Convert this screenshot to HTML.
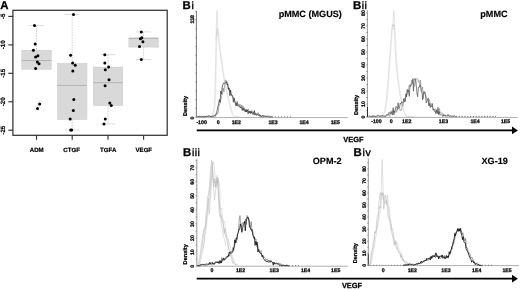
<!DOCTYPE html>
<html><head><meta charset="utf-8"><title>Figure</title>
<style>html,body{margin:0;padding:0;background:#fff;}svg{display:block;}</style>
</head><body>
<svg width="520" height="290" viewBox="0 0 520 290" text-rendering="geometricPrecision">
<rect width="520" height="290" fill="#fff"/>
<text x="0.2" y="8.9" font-family="Liberation Sans, Arial, sans-serif" font-size="11.4" font-weight="bold" fill="#000" stroke="#000" stroke-width="0.3">A</text>
<line x1="36.5" y1="25.5" x2="36.5" y2="50.2" stroke="#b4b4b4" stroke-width="0.6" stroke-dasharray="1.5,1"/>
<line x1="29.0" y1="25.5" x2="44.0" y2="25.5" stroke="#c4c4c4" stroke-width="0.6"/>
<rect x="21.75" y="50.2" width="29.5" height="19.1" fill="#d9d9d9" stroke="#cbcbcb" stroke-width="0.5"/>
<line x1="21.75" y1="60.5" x2="51.25" y2="60.5" stroke="#ababab" stroke-width="0.8"/>
<circle cx="39.6" cy="104" r="2.6" fill="none" stroke="#ddd" stroke-width="0.5"/>
<circle cx="37.5" cy="108.4" r="2.6" fill="none" stroke="#ddd" stroke-width="0.5"/>
<circle cx="34.5" cy="25.5" r="1.5" fill="#000"/>
<circle cx="35.2" cy="44.1" r="1.5" fill="#000"/>
<circle cx="33.4" cy="50.2" r="1.5" fill="#000"/>
<circle cx="35.6" cy="56.9" r="1.5" fill="#000"/>
<circle cx="37.9" cy="55.8" r="1.5" fill="#000"/>
<circle cx="37.4" cy="62.1" r="1.5" fill="#000"/>
<circle cx="39" cy="63.7" r="1.5" fill="#000"/>
<circle cx="35.6" cy="68.4" r="1.5" fill="#000"/>
<circle cx="39.6" cy="104" r="1.5" fill="#000"/>
<circle cx="37.5" cy="108.4" r="1.5" fill="#000"/>
<line x1="72.2" y1="14.5" x2="72.2" y2="63.3" stroke="#b4b4b4" stroke-width="0.6" stroke-dasharray="1.5,1"/>
<line x1="64.7" y1="14.5" x2="79.7" y2="14.5" stroke="#c4c4c4" stroke-width="0.6"/>
<line x1="72.2" y1="119.6" x2="72.2" y2="130" stroke="#b4b4b4" stroke-width="0.6" stroke-dasharray="1.5,1"/>
<line x1="64.7" y1="130" x2="79.7" y2="130" stroke="#c4c4c4" stroke-width="0.6"/>
<rect x="57.45" y="63.3" width="29.5" height="56.3" fill="#d9d9d9" stroke="#cbcbcb" stroke-width="0.5"/>
<line x1="57.45" y1="85.4" x2="86.95" y2="85.4" stroke="#ababab" stroke-width="0.8"/>
<circle cx="73.5" cy="14.5" r="1.5" fill="#000"/>
<circle cx="70.6" cy="55.3" r="1.5" fill="#000"/>
<circle cx="72.6" cy="63.1" r="1.5" fill="#000"/>
<circle cx="75.2" cy="65.3" r="1.5" fill="#000"/>
<circle cx="72.8" cy="71.1" r="1.5" fill="#000"/>
<circle cx="73.8" cy="99.6" r="1.5" fill="#000"/>
<circle cx="73.3" cy="110.5" r="1.5" fill="#000"/>
<circle cx="70.2" cy="119.1" r="1.5" fill="#000"/>
<circle cx="70.7" cy="130" r="1.5" fill="#000"/>
<circle cx="71.6" cy="130" r="1.5" fill="#000"/>
<line x1="108.0" y1="54.7" x2="108.0" y2="67.1" stroke="#b4b4b4" stroke-width="0.6" stroke-dasharray="1.5,1"/>
<line x1="100.5" y1="54.7" x2="115.5" y2="54.7" stroke="#c4c4c4" stroke-width="0.6"/>
<line x1="108.0" y1="105.6" x2="108.0" y2="124" stroke="#b4b4b4" stroke-width="0.6" stroke-dasharray="1.5,1"/>
<line x1="100.5" y1="124" x2="115.5" y2="124" stroke="#c4c4c4" stroke-width="0.6"/>
<rect x="93.25" y="67.1" width="29.5" height="38.5" fill="#d9d9d9" stroke="#cbcbcb" stroke-width="0.5"/>
<line x1="93.25" y1="82.7" x2="122.75" y2="82.7" stroke="#ababab" stroke-width="0.8"/>
<circle cx="104.8" cy="54.7" r="1.5" fill="#000"/>
<circle cx="104.8" cy="63.1" r="1.5" fill="#000"/>
<circle cx="108.6" cy="67.1" r="1.5" fill="#000"/>
<circle cx="105.3" cy="69.7" r="1.5" fill="#000"/>
<circle cx="109" cy="79.7" r="1.5" fill="#000"/>
<circle cx="105.1" cy="85.8" r="1.5" fill="#000"/>
<circle cx="109.8" cy="102.9" r="1.5" fill="#000"/>
<circle cx="111.3" cy="105.6" r="1.5" fill="#000"/>
<circle cx="105.3" cy="118.9" r="1.5" fill="#000"/>
<circle cx="104" cy="124" r="1.5" fill="#000"/>
<line x1="143.6" y1="31.9" x2="143.6" y2="37.9" stroke="#b4b4b4" stroke-width="0.6" stroke-dasharray="1.5,1"/>
<line x1="136.1" y1="31.9" x2="151.1" y2="31.9" stroke="#c4c4c4" stroke-width="0.6"/>
<line x1="143.6" y1="47.1" x2="143.6" y2="59.5" stroke="#b4b4b4" stroke-width="0.6" stroke-dasharray="1.5,1"/>
<line x1="136.1" y1="59.5" x2="151.1" y2="59.5" stroke="#c4c4c4" stroke-width="0.6"/>
<rect x="128.85" y="37.9" width="29.5" height="9.2" fill="#d9d9d9" stroke="#cbcbcb" stroke-width="0.5"/>
<line x1="128.85" y1="38.4" x2="158.35" y2="38.4" stroke="#ababab" stroke-width="0.8"/>
<circle cx="141.3" cy="31.9" r="1.5" fill="#000"/>
<circle cx="140.4" cy="38.8" r="1.5" fill="#000"/>
<circle cx="141.8" cy="37.8" r="1.5" fill="#000"/>
<circle cx="142.9" cy="41.8" r="1.5" fill="#000"/>
<circle cx="139.5" cy="46.4" r="1.5" fill="#000"/>
<circle cx="141.3" cy="59.4" r="1.5" fill="#000"/>
<rect x="12.9" y="10.3" width="154.3" height="125.0" fill="none" stroke="#333" stroke-width="1.25"/>
<line x1="8.3" y1="16.4" x2="12.9" y2="16.4" stroke="#333" stroke-width="1.15"/>
<text transform="translate(4.6,16.4) rotate(-90)" text-anchor="middle" font-family="Liberation Sans, Arial, sans-serif" font-size="6.2" font-weight="bold" fill="#000" stroke="#000" stroke-width="0.2">-5</text>
<line x1="8.3" y1="44.9" x2="12.9" y2="44.9" stroke="#333" stroke-width="1.15"/>
<text transform="translate(4.6,44.9) rotate(-90)" text-anchor="middle" font-family="Liberation Sans, Arial, sans-serif" font-size="6.2" font-weight="bold" fill="#000" stroke="#000" stroke-width="0.2">-10</text>
<line x1="8.3" y1="73.3" x2="12.9" y2="73.3" stroke="#333" stroke-width="1.15"/>
<text transform="translate(4.6,73.3) rotate(-90)" text-anchor="middle" font-family="Liberation Sans, Arial, sans-serif" font-size="6.2" font-weight="bold" fill="#000" stroke="#000" stroke-width="0.2">-15</text>
<line x1="8.3" y1="101.8" x2="12.9" y2="101.8" stroke="#333" stroke-width="1.15"/>
<text transform="translate(4.6,101.8) rotate(-90)" text-anchor="middle" font-family="Liberation Sans, Arial, sans-serif" font-size="6.2" font-weight="bold" fill="#000" stroke="#000" stroke-width="0.2">-20</text>
<line x1="8.3" y1="130.2" x2="12.9" y2="130.2" stroke="#333" stroke-width="1.15"/>
<text transform="translate(4.6,130.2) rotate(-90)" text-anchor="middle" font-family="Liberation Sans, Arial, sans-serif" font-size="6.2" font-weight="bold" fill="#000" stroke="#000" stroke-width="0.2">-25</text>
<line x1="36.5" y1="135.3" x2="36.5" y2="139.8" stroke="#333" stroke-width="1.15"/>
<text x="36.7" y="151.6" text-anchor="middle" font-family="Liberation Sans, Arial, sans-serif" font-size="6.1" font-weight="bold" fill="#000" stroke="#000" stroke-width="0.2">ADM</text>
<line x1="72.2" y1="135.3" x2="72.2" y2="139.8" stroke="#333" stroke-width="1.15"/>
<text x="71.60000000000001" y="151.6" text-anchor="middle" font-family="Liberation Sans, Arial, sans-serif" font-size="6.1" font-weight="bold" fill="#000" stroke="#000" stroke-width="0.2">CTGF</text>
<line x1="108.0" y1="135.3" x2="108.0" y2="139.8" stroke="#333" stroke-width="1.15"/>
<text x="108.2" y="151.6" text-anchor="middle" font-family="Liberation Sans, Arial, sans-serif" font-size="6.1" font-weight="bold" fill="#000" stroke="#000" stroke-width="0.2">TGFA</text>
<line x1="143.6" y1="135.3" x2="143.6" y2="139.8" stroke="#333" stroke-width="1.15"/>
<text x="143.79999999999998" y="151.6" text-anchor="middle" font-family="Liberation Sans, Arial, sans-serif" font-size="6.1" font-weight="bold" fill="#000" stroke="#000" stroke-width="0.2">VEGF</text>
<line x1="196.4" y1="11" x2="196.4" y2="117.6" stroke="#666" stroke-width="0.9"/>
<line x1="195.20000000000002" y1="117.30" x2="196.70000000000002" y2="117.30" stroke="#777" stroke-width="0.6"/>
<line x1="195.20000000000002" y1="108.45" x2="196.70000000000002" y2="108.45" stroke="#777" stroke-width="0.6"/>
<line x1="195.20000000000002" y1="99.60" x2="196.70000000000002" y2="99.60" stroke="#777" stroke-width="0.6"/>
<line x1="195.20000000000002" y1="90.75" x2="196.70000000000002" y2="90.75" stroke="#777" stroke-width="0.6"/>
<line x1="195.20000000000002" y1="81.90" x2="196.70000000000002" y2="81.90" stroke="#777" stroke-width="0.6"/>
<line x1="195.20000000000002" y1="73.05" x2="196.70000000000002" y2="73.05" stroke="#777" stroke-width="0.6"/>
<line x1="195.20000000000002" y1="64.20" x2="196.70000000000002" y2="64.20" stroke="#777" stroke-width="0.6"/>
<line x1="195.20000000000002" y1="55.35" x2="196.70000000000002" y2="55.35" stroke="#777" stroke-width="0.6"/>
<line x1="195.20000000000002" y1="46.50" x2="196.70000000000002" y2="46.50" stroke="#777" stroke-width="0.6"/>
<line x1="195.20000000000002" y1="37.65" x2="196.70000000000002" y2="37.65" stroke="#777" stroke-width="0.6"/>
<line x1="195.20000000000002" y1="28.80" x2="196.70000000000002" y2="28.80" stroke="#777" stroke-width="0.6"/>
<line x1="195.20000000000002" y1="19.95" x2="196.70000000000002" y2="19.95" stroke="#777" stroke-width="0.6"/>
<line x1="195.20000000000002" y1="11.10" x2="196.70000000000002" y2="11.10" stroke="#777" stroke-width="0.6"/>
<line x1="196.4" y1="117.6" x2="347.8" y2="117.6" stroke="#999" stroke-width="0.8"/>
<text x="182.5" y="8.7" font-family="Liberation Sans, Arial, sans-serif" font-size="11.4" font-weight="bold" fill="#000" stroke="#000" stroke-width="0.3">B</text>
<text x="191.4" y="8.7" font-family="Liberation Sans, Arial, sans-serif" font-size="10.6" fill="#000" stroke="#000" stroke-width="0.35" letter-spacing="0.45">i</text>
<text x="341.8" y="17.2" text-anchor="end" font-family="Liberation Sans, Arial, sans-serif" font-size="9.1" font-weight="bold" fill="#000" stroke="#000" stroke-width="0.15">pMMC (MGUS)</text>
<text transform="translate(193.6,19.20) rotate(-90)" text-anchor="middle" font-family="Liberation Sans, Arial, sans-serif" font-size="5.2" font-weight="bold" fill="#000" stroke="#000" stroke-width="0.25">118</text>
<text transform="translate(193.6,118.00) rotate(-90)" text-anchor="middle" font-family="Liberation Sans, Arial, sans-serif" font-size="5.2" font-weight="bold" fill="#000" stroke="#000" stroke-width="0.25">0</text>
<text transform="translate(186.6,106.00) rotate(-90)" text-anchor="middle" font-family="Liberation Sans, Arial, sans-serif" font-size="5.6" font-weight="bold" fill="#000" stroke="#000" stroke-width="0.25">Density</text>
<text x="201.6" y="123.9" text-anchor="middle" font-family="Liberation Sans, Arial, sans-serif" font-size="5.2" font-weight="bold" fill="#000" stroke="#000" stroke-width="0.25">-100</text>
<text x="218.3" y="123.9" text-anchor="middle" font-family="Liberation Sans, Arial, sans-serif" font-size="5.2" font-weight="bold" fill="#000" stroke="#000" stroke-width="0.25">0</text>
<text x="236.3" y="123.9" text-anchor="middle" font-family="Liberation Sans, Arial, sans-serif" font-size="5.2" font-weight="bold" fill="#000" stroke="#000" stroke-width="0.25">1E2</text>
<text x="273.0" y="123.9" text-anchor="middle" font-family="Liberation Sans, Arial, sans-serif" font-size="5.2" font-weight="bold" fill="#000" stroke="#000" stroke-width="0.25">1E3</text>
<text x="304.1" y="123.9" text-anchor="middle" font-family="Liberation Sans, Arial, sans-serif" font-size="5.2" font-weight="bold" fill="#000" stroke="#000" stroke-width="0.25">1E4</text>
<text x="335.3" y="123.9" text-anchor="middle" font-family="Liberation Sans, Arial, sans-serif" font-size="5.2" font-weight="bold" fill="#000" stroke="#000" stroke-width="0.25">1E5</text>
<line x1="367.4" y1="10.3" x2="367.4" y2="117.4" stroke="#909090" stroke-width="0.9"/>
<line x1="366.2" y1="117.00" x2="367.7" y2="117.00" stroke="#777" stroke-width="0.6"/>
<line x1="366.2" y1="110.50" x2="367.7" y2="110.50" stroke="#777" stroke-width="0.6"/>
<line x1="366.2" y1="104.00" x2="367.7" y2="104.00" stroke="#777" stroke-width="0.6"/>
<line x1="366.2" y1="97.50" x2="367.7" y2="97.50" stroke="#777" stroke-width="0.6"/>
<line x1="366.2" y1="91.00" x2="367.7" y2="91.00" stroke="#777" stroke-width="0.6"/>
<line x1="366.2" y1="84.50" x2="367.7" y2="84.50" stroke="#777" stroke-width="0.6"/>
<line x1="366.2" y1="78.00" x2="367.7" y2="78.00" stroke="#777" stroke-width="0.6"/>
<line x1="366.2" y1="71.50" x2="367.7" y2="71.50" stroke="#777" stroke-width="0.6"/>
<line x1="366.2" y1="65.00" x2="367.7" y2="65.00" stroke="#777" stroke-width="0.6"/>
<line x1="366.2" y1="58.50" x2="367.7" y2="58.50" stroke="#777" stroke-width="0.6"/>
<line x1="366.2" y1="52.00" x2="367.7" y2="52.00" stroke="#777" stroke-width="0.6"/>
<line x1="366.2" y1="45.50" x2="367.7" y2="45.50" stroke="#777" stroke-width="0.6"/>
<line x1="366.2" y1="39.00" x2="367.7" y2="39.00" stroke="#777" stroke-width="0.6"/>
<line x1="366.2" y1="32.50" x2="367.7" y2="32.50" stroke="#777" stroke-width="0.6"/>
<line x1="366.2" y1="26.00" x2="367.7" y2="26.00" stroke="#777" stroke-width="0.6"/>
<line x1="366.2" y1="19.50" x2="367.7" y2="19.50" stroke="#777" stroke-width="0.6"/>
<line x1="366.2" y1="13.00" x2="367.7" y2="13.00" stroke="#777" stroke-width="0.6"/>
<line x1="367.4" y1="117.4" x2="517.7" y2="117.4" stroke="#999" stroke-width="0.8"/>
<text x="352.9" y="8.7" font-family="Liberation Sans, Arial, sans-serif" font-size="11.4" font-weight="bold" fill="#000" stroke="#000" stroke-width="0.3">B</text>
<text x="361.8" y="8.7" font-family="Liberation Sans, Arial, sans-serif" font-size="10.6" fill="#000" stroke="#000" stroke-width="0.35" letter-spacing="0.45">ii</text>
<text x="507.6" y="17.2" text-anchor="end" font-family="Liberation Sans, Arial, sans-serif" font-size="9.1" font-weight="bold" fill="#000" stroke="#000" stroke-width="0.15">pMMC</text>
<text transform="translate(364.8,117.00) rotate(-90)" text-anchor="middle" font-family="Liberation Sans, Arial, sans-serif" font-size="5.2" font-weight="bold" fill="#000" stroke="#000" stroke-width="0.25">0</text>
<text transform="translate(364.8,104.00) rotate(-90)" text-anchor="middle" font-family="Liberation Sans, Arial, sans-serif" font-size="5.2" font-weight="bold" fill="#000" stroke="#000" stroke-width="0.25">10</text>
<text transform="translate(364.8,91.00) rotate(-90)" text-anchor="middle" font-family="Liberation Sans, Arial, sans-serif" font-size="5.2" font-weight="bold" fill="#000" stroke="#000" stroke-width="0.25">20</text>
<text transform="translate(364.8,78.00) rotate(-90)" text-anchor="middle" font-family="Liberation Sans, Arial, sans-serif" font-size="5.2" font-weight="bold" fill="#000" stroke="#000" stroke-width="0.25">30</text>
<text transform="translate(364.8,65.00) rotate(-90)" text-anchor="middle" font-family="Liberation Sans, Arial, sans-serif" font-size="5.2" font-weight="bold" fill="#000" stroke="#000" stroke-width="0.25">40</text>
<text transform="translate(364.8,52.00) rotate(-90)" text-anchor="middle" font-family="Liberation Sans, Arial, sans-serif" font-size="5.2" font-weight="bold" fill="#000" stroke="#000" stroke-width="0.25">50</text>
<text transform="translate(364.8,39.00) rotate(-90)" text-anchor="middle" font-family="Liberation Sans, Arial, sans-serif" font-size="5.2" font-weight="bold" fill="#000" stroke="#000" stroke-width="0.25">60</text>
<text transform="translate(364.8,26.00) rotate(-90)" text-anchor="middle" font-family="Liberation Sans, Arial, sans-serif" font-size="5.2" font-weight="bold" fill="#000" stroke="#000" stroke-width="0.25">70</text>
<text transform="translate(364.8,13.00) rotate(-90)" text-anchor="middle" font-family="Liberation Sans, Arial, sans-serif" font-size="5.2" font-weight="bold" fill="#000" stroke="#000" stroke-width="0.25">80</text>
<text transform="translate(357.6,105.00) rotate(-90)" text-anchor="middle" font-family="Liberation Sans, Arial, sans-serif" font-size="5.6" font-weight="bold" fill="#000" stroke="#000" stroke-width="0.25">Density</text>
<text x="376.4" y="123.3" text-anchor="middle" font-family="Liberation Sans, Arial, sans-serif" font-size="5.2" font-weight="bold" fill="#000" stroke="#000" stroke-width="0.25">-100</text>
<text x="391.3" y="123.3" text-anchor="middle" font-family="Liberation Sans, Arial, sans-serif" font-size="5.2" font-weight="bold" fill="#000" stroke="#000" stroke-width="0.25">0</text>
<text x="406.7" y="123.3" text-anchor="middle" font-family="Liberation Sans, Arial, sans-serif" font-size="5.2" font-weight="bold" fill="#000" stroke="#000" stroke-width="0.25">1E2</text>
<text x="443.4" y="123.3" text-anchor="middle" font-family="Liberation Sans, Arial, sans-serif" font-size="5.2" font-weight="bold" fill="#000" stroke="#000" stroke-width="0.25">1E3</text>
<text x="475" y="123.3" text-anchor="middle" font-family="Liberation Sans, Arial, sans-serif" font-size="5.2" font-weight="bold" fill="#000" stroke="#000" stroke-width="0.25">1E4</text>
<text x="505.5" y="123.3" text-anchor="middle" font-family="Liberation Sans, Arial, sans-serif" font-size="5.2" font-weight="bold" fill="#000" stroke="#000" stroke-width="0.25">1E5</text>
<line x1="196.8" y1="159.2" x2="196.8" y2="266.2" stroke="#909090" stroke-width="0.9"/>
<line x1="195.60000000000002" y1="266.20" x2="197.10000000000002" y2="266.20" stroke="#777" stroke-width="0.6"/>
<line x1="195.60000000000002" y1="259.17" x2="197.10000000000002" y2="259.17" stroke="#777" stroke-width="0.6"/>
<line x1="195.60000000000002" y1="252.14" x2="197.10000000000002" y2="252.14" stroke="#777" stroke-width="0.6"/>
<line x1="195.60000000000002" y1="245.11" x2="197.10000000000002" y2="245.11" stroke="#777" stroke-width="0.6"/>
<line x1="195.60000000000002" y1="238.08" x2="197.10000000000002" y2="238.08" stroke="#777" stroke-width="0.6"/>
<line x1="195.60000000000002" y1="231.05" x2="197.10000000000002" y2="231.05" stroke="#777" stroke-width="0.6"/>
<line x1="195.60000000000002" y1="224.02" x2="197.10000000000002" y2="224.02" stroke="#777" stroke-width="0.6"/>
<line x1="195.60000000000002" y1="216.99" x2="197.10000000000002" y2="216.99" stroke="#777" stroke-width="0.6"/>
<line x1="195.60000000000002" y1="209.96" x2="197.10000000000002" y2="209.96" stroke="#777" stroke-width="0.6"/>
<line x1="195.60000000000002" y1="202.93" x2="197.10000000000002" y2="202.93" stroke="#777" stroke-width="0.6"/>
<line x1="195.60000000000002" y1="195.90" x2="197.10000000000002" y2="195.90" stroke="#777" stroke-width="0.6"/>
<line x1="195.60000000000002" y1="188.87" x2="197.10000000000002" y2="188.87" stroke="#777" stroke-width="0.6"/>
<line x1="195.60000000000002" y1="181.84" x2="197.10000000000002" y2="181.84" stroke="#777" stroke-width="0.6"/>
<line x1="195.60000000000002" y1="174.81" x2="197.10000000000002" y2="174.81" stroke="#777" stroke-width="0.6"/>
<line x1="195.60000000000002" y1="167.78" x2="197.10000000000002" y2="167.78" stroke="#777" stroke-width="0.6"/>
<line x1="195.60000000000002" y1="160.75" x2="197.10000000000002" y2="160.75" stroke="#777" stroke-width="0.6"/>
<line x1="196.8" y1="266.2" x2="347.8" y2="266.2" stroke="#999" stroke-width="0.8"/>
<text x="182.9" y="155.6" font-family="Liberation Sans, Arial, sans-serif" font-size="11.4" font-weight="bold" fill="#000" stroke="#000" stroke-width="0.3">B</text>
<text x="191.9" y="155.6" font-family="Liberation Sans, Arial, sans-serif" font-size="10.6" fill="#000" stroke="#000" stroke-width="0.35" letter-spacing="0.45">iii</text>
<text x="341.6" y="163.6" text-anchor="end" font-family="Liberation Sans, Arial, sans-serif" font-size="9.1" font-weight="bold" fill="#000" stroke="#000" stroke-width="0.15">OPM-2</text>
<text transform="translate(193.6,266.20) rotate(-90)" text-anchor="middle" font-family="Liberation Sans, Arial, sans-serif" font-size="5.2" font-weight="bold" fill="#000" stroke="#000" stroke-width="0.25">0</text>
<text transform="translate(193.6,252.14) rotate(-90)" text-anchor="middle" font-family="Liberation Sans, Arial, sans-serif" font-size="5.2" font-weight="bold" fill="#000" stroke="#000" stroke-width="0.25">10</text>
<text transform="translate(193.6,238.08) rotate(-90)" text-anchor="middle" font-family="Liberation Sans, Arial, sans-serif" font-size="5.2" font-weight="bold" fill="#000" stroke="#000" stroke-width="0.25">20</text>
<text transform="translate(193.6,224.02) rotate(-90)" text-anchor="middle" font-family="Liberation Sans, Arial, sans-serif" font-size="5.2" font-weight="bold" fill="#000" stroke="#000" stroke-width="0.25">30</text>
<text transform="translate(193.6,209.96) rotate(-90)" text-anchor="middle" font-family="Liberation Sans, Arial, sans-serif" font-size="5.2" font-weight="bold" fill="#000" stroke="#000" stroke-width="0.25">40</text>
<text transform="translate(193.6,195.90) rotate(-90)" text-anchor="middle" font-family="Liberation Sans, Arial, sans-serif" font-size="5.2" font-weight="bold" fill="#000" stroke="#000" stroke-width="0.25">50</text>
<text transform="translate(193.6,181.84) rotate(-90)" text-anchor="middle" font-family="Liberation Sans, Arial, sans-serif" font-size="5.2" font-weight="bold" fill="#000" stroke="#000" stroke-width="0.25">60</text>
<text transform="translate(193.6,167.78) rotate(-90)" text-anchor="middle" font-family="Liberation Sans, Arial, sans-serif" font-size="5.2" font-weight="bold" fill="#000" stroke="#000" stroke-width="0.25">70</text>
<text transform="translate(187.1,254.30) rotate(-90)" text-anchor="middle" font-family="Liberation Sans, Arial, sans-serif" font-size="5.6" font-weight="bold" fill="#000" stroke="#000" stroke-width="0.25">Density</text>
<text x="211.9" y="272.2" text-anchor="middle" font-family="Liberation Sans, Arial, sans-serif" font-size="5.2" font-weight="bold" fill="#000" stroke="#000" stroke-width="0.25">0</text>
<text x="240.5" y="272.2" text-anchor="middle" font-family="Liberation Sans, Arial, sans-serif" font-size="5.2" font-weight="bold" fill="#000" stroke="#000" stroke-width="0.25">1E2</text>
<text x="274.2" y="272.2" text-anchor="middle" font-family="Liberation Sans, Arial, sans-serif" font-size="5.2" font-weight="bold" fill="#000" stroke="#000" stroke-width="0.25">1E3</text>
<text x="305.5" y="272.2" text-anchor="middle" font-family="Liberation Sans, Arial, sans-serif" font-size="5.2" font-weight="bold" fill="#000" stroke="#000" stroke-width="0.25">1E4</text>
<text x="335.7" y="272.2" text-anchor="middle" font-family="Liberation Sans, Arial, sans-serif" font-size="5.2" font-weight="bold" fill="#000" stroke="#000" stroke-width="0.25">1E5</text>
<line x1="368.3" y1="158.3" x2="368.3" y2="265.6" stroke="#909090" stroke-width="0.9"/>
<line x1="367.1" y1="265.30" x2="368.6" y2="265.30" stroke="#777" stroke-width="0.6"/>
<line x1="367.1" y1="259.28" x2="368.6" y2="259.28" stroke="#777" stroke-width="0.6"/>
<line x1="367.1" y1="253.25" x2="368.6" y2="253.25" stroke="#777" stroke-width="0.6"/>
<line x1="367.1" y1="247.23" x2="368.6" y2="247.23" stroke="#777" stroke-width="0.6"/>
<line x1="367.1" y1="241.20" x2="368.6" y2="241.20" stroke="#777" stroke-width="0.6"/>
<line x1="367.1" y1="235.18" x2="368.6" y2="235.18" stroke="#777" stroke-width="0.6"/>
<line x1="367.1" y1="229.15" x2="368.6" y2="229.15" stroke="#777" stroke-width="0.6"/>
<line x1="367.1" y1="223.12" x2="368.6" y2="223.12" stroke="#777" stroke-width="0.6"/>
<line x1="367.1" y1="217.10" x2="368.6" y2="217.10" stroke="#777" stroke-width="0.6"/>
<line x1="367.1" y1="211.08" x2="368.6" y2="211.08" stroke="#777" stroke-width="0.6"/>
<line x1="367.1" y1="205.05" x2="368.6" y2="205.05" stroke="#777" stroke-width="0.6"/>
<line x1="367.1" y1="199.03" x2="368.6" y2="199.03" stroke="#777" stroke-width="0.6"/>
<line x1="367.1" y1="193.00" x2="368.6" y2="193.00" stroke="#777" stroke-width="0.6"/>
<line x1="367.1" y1="186.98" x2="368.6" y2="186.98" stroke="#777" stroke-width="0.6"/>
<line x1="367.1" y1="180.95" x2="368.6" y2="180.95" stroke="#777" stroke-width="0.6"/>
<line x1="367.1" y1="174.93" x2="368.6" y2="174.93" stroke="#777" stroke-width="0.6"/>
<line x1="367.1" y1="168.90" x2="368.6" y2="168.90" stroke="#777" stroke-width="0.6"/>
<line x1="367.1" y1="162.88" x2="368.6" y2="162.88" stroke="#777" stroke-width="0.6"/>
<line x1="368.3" y1="265.6" x2="519" y2="265.6" stroke="#999" stroke-width="0.8"/>
<text x="353.4" y="155.7" font-family="Liberation Sans, Arial, sans-serif" font-size="11.4" font-weight="bold" fill="#000" stroke="#000" stroke-width="0.3">B</text>
<text x="362.6" y="155.7" font-family="Liberation Sans, Arial, sans-serif" font-size="10.6" fill="#000" stroke="#000" stroke-width="0.35" letter-spacing="0.45">iv</text>
<text x="507.8" y="163.7" text-anchor="end" font-family="Liberation Sans, Arial, sans-serif" font-size="9.1" font-weight="bold" fill="#000" stroke="#000" stroke-width="0.15">XG-19</text>
<text transform="translate(365.6,265.30) rotate(-90)" text-anchor="middle" font-family="Liberation Sans, Arial, sans-serif" font-size="5.2" font-weight="bold" fill="#000" stroke="#000" stroke-width="0.25">0</text>
<text transform="translate(365.6,253.25) rotate(-90)" text-anchor="middle" font-family="Liberation Sans, Arial, sans-serif" font-size="5.2" font-weight="bold" fill="#000" stroke="#000" stroke-width="0.25">10</text>
<text transform="translate(365.6,241.20) rotate(-90)" text-anchor="middle" font-family="Liberation Sans, Arial, sans-serif" font-size="5.2" font-weight="bold" fill="#000" stroke="#000" stroke-width="0.25">20</text>
<text transform="translate(365.6,229.15) rotate(-90)" text-anchor="middle" font-family="Liberation Sans, Arial, sans-serif" font-size="5.2" font-weight="bold" fill="#000" stroke="#000" stroke-width="0.25">30</text>
<text transform="translate(365.6,217.10) rotate(-90)" text-anchor="middle" font-family="Liberation Sans, Arial, sans-serif" font-size="5.2" font-weight="bold" fill="#000" stroke="#000" stroke-width="0.25">40</text>
<text transform="translate(365.6,205.05) rotate(-90)" text-anchor="middle" font-family="Liberation Sans, Arial, sans-serif" font-size="5.2" font-weight="bold" fill="#000" stroke="#000" stroke-width="0.25">50</text>
<text transform="translate(365.6,193.00) rotate(-90)" text-anchor="middle" font-family="Liberation Sans, Arial, sans-serif" font-size="5.2" font-weight="bold" fill="#000" stroke="#000" stroke-width="0.25">60</text>
<text transform="translate(365.6,180.95) rotate(-90)" text-anchor="middle" font-family="Liberation Sans, Arial, sans-serif" font-size="5.2" font-weight="bold" fill="#000" stroke="#000" stroke-width="0.25">70</text>
<text transform="translate(365.6,168.90) rotate(-90)" text-anchor="middle" font-family="Liberation Sans, Arial, sans-serif" font-size="5.2" font-weight="bold" fill="#000" stroke="#000" stroke-width="0.25">80</text>
<text transform="translate(356.6,253.20) rotate(-90)" text-anchor="middle" font-family="Liberation Sans, Arial, sans-serif" font-size="5.6" font-weight="bold" fill="#000" stroke="#000" stroke-width="0.25">Density</text>
<text x="383.1" y="271.5" text-anchor="middle" font-family="Liberation Sans, Arial, sans-serif" font-size="5.2" font-weight="bold" fill="#000" stroke="#000" stroke-width="0.25">0</text>
<text x="412.3" y="271.5" text-anchor="middle" font-family="Liberation Sans, Arial, sans-serif" font-size="5.2" font-weight="bold" fill="#000" stroke="#000" stroke-width="0.25">1E2</text>
<text x="445.9" y="271.5" text-anchor="middle" font-family="Liberation Sans, Arial, sans-serif" font-size="5.2" font-weight="bold" fill="#000" stroke="#000" stroke-width="0.25">1E3</text>
<text x="476.7" y="271.5" text-anchor="middle" font-family="Liberation Sans, Arial, sans-serif" font-size="5.2" font-weight="bold" fill="#000" stroke="#000" stroke-width="0.25">1E4</text>
<text x="507" y="271.5" text-anchor="middle" font-family="Liberation Sans, Arial, sans-serif" font-size="5.2" font-weight="bold" fill="#000" stroke="#000" stroke-width="0.25">1E5</text>
<polyline points="216.0,40 216.5,20 217.0,10.5 217.6,20 218.2,36" fill="none" stroke="#d2d2d2" stroke-width="0.6"/>
<line x1="272" y1="116.8" x2="292" y2="116.8" stroke="#444" stroke-width="0.6" stroke-dasharray="1,2"/>
<polyline points="205.8,117.0 206.5,117.0 207.2,116.9 207.9,116.9 208.6,116.8 209.3,116.8 210.0,116.7 210.7,116.7 211.4,116.7 212.1,116.6 212.8,115.4 213.5,113.9 214.2,112.6 214.9,107.3 215.6,96.3 216.3,68.6 217.0,38.0 217.7,29.5 218.4,29.7 219.1,36.2 219.8,42.7 220.5,49.4 221.2,55.1 221.9,60.7 222.6,65.3 223.3,70.2 224.0,74.1 224.7,77.9 225.4,81.8 226.1,85.5 226.8,88.5 227.5,92.7 228.2,95.1 228.9,98.4 229.6,101.1 230.3,104.3 231.0,107.1 231.7,109.6 232.4,112.5 233.1,114.5 233.8,115.2 234.5,116.2 235.2,116.6 235.9,116.7 236.6,116.7 237.3,116.7 238.0,116.8 238.7,116.8 239.4,116.8 240.1,117.0 240.8,116.9" fill="none" stroke="#dddddd" stroke-width="0.5" stroke-linejoin="round" stroke-opacity="1"/>
<polyline points="205.0,117.0 205.7,116.9 206.4,116.9 207.1,116.9 207.8,116.9 208.5,116.7 209.2,116.7 209.9,116.7 210.6,116.6 211.3,116.6 212.0,115.5 212.7,113.9 213.4,112.3 214.1,107.6 214.8,96.3 215.5,66.8 216.2,37.9 216.9,28.4 217.6,29.5 218.3,37.2 219.0,43.5 219.7,49.2 220.4,54.5 221.1,60.1 221.8,64.1 222.5,70.4 223.2,73.9 223.9,78.3 224.6,81.8 225.3,85.4 226.0,88.7 226.7,92.4 227.4,94.4 228.1,98.4 228.8,101.2 229.5,104.0 230.2,107.3 230.9,109.5 231.6,112.4 232.3,114.1 233.0,115.3 233.7,116.1 234.4,116.5 235.1,116.8 235.8,116.8 236.5,116.8 237.2,116.8 237.9,116.8 238.6,116.9 239.3,117.0 240.0,116.9" fill="none" stroke="#c4c4c4" stroke-width="0.5" stroke-linejoin="round" stroke-opacity="1"/>
<polyline points="198.0,116.9 198.7,116.6 199.4,116.4 200.1,116.1 200.8,116.5 201.5,116.8 202.2,116.3 202.9,116.5 203.6,115.9 204.3,117.0 205.0,116.5 205.7,116.5 206.4,116.6 207.1,116.7 207.8,116.4 208.5,116.5 209.2,116.4 209.9,116.8 210.6,116.6 211.3,116.9 212.0,116.5 212.7,116.9 213.4,116.2 214.1,115.9 214.8,115.4 215.5,116.4 216.2,113.6 216.9,114.5 217.6,112.8 218.3,112.7 219.0,104.6 219.7,104.6 220.4,100.4 221.1,99.4 221.8,95.0 222.5,94.2 223.2,87.9 223.9,91.8 224.6,85.7 225.3,80.2 226.0,80.2 226.7,82.8 227.4,82.3 228.1,88.8 228.8,87.4 229.5,91.5 230.2,89.8 230.9,94.5 231.6,94.4 232.3,96.9 233.0,97.7 233.7,97.2 234.4,100.7 235.1,103.0 235.8,106.0 236.5,104.3 237.2,100.9 237.9,104.7 238.6,104.2 239.3,105.8 240.0,104.0 240.7,107.6 241.4,105.0 242.1,110.3 242.8,105.6 243.5,110.3 244.2,109.3 244.9,110.8 245.6,110.4 246.3,111.5 247.0,110.5 247.7,110.8 248.4,109.0 249.1,111.8 249.8,111.0 250.5,113.9 251.2,110.3 251.9,112.9 252.6,111.3 253.3,114.6 254.0,112.1 254.7,115.3 255.4,112.9 256.1,114.2 256.8,113.3 257.5,114.0 258.2,112.6 258.9,115.0 259.6,114.3 260.3,116.9 261.0,115.4 261.7,116.4 262.4,115.6 263.1,116.1 263.8,115.2 264.5,115.8 265.2,116.6 265.9,116.2 266.6,116.0 267.3,116.8 268.0,116.3 268.7,116.6 269.4,117.0 270.1,116.9 270.8,116.6 271.5,116.8 272.2,116.7 272.9,117.0" fill="none" stroke="#777" stroke-width="0.6" stroke-linejoin="round" stroke-opacity="1"/>
<polyline points="197.0,116.5 197.7,117.0 198.4,116.2 199.1,117.0 199.8,116.4 200.5,116.6 201.2,117.0 201.9,116.7 202.6,116.4 203.3,116.9 204.0,116.8 204.7,116.6 205.4,116.6 206.1,116.3 206.8,116.2 207.5,116.4 208.2,115.9 208.9,116.0 209.6,115.7 210.3,116.5 211.0,116.2 211.7,116.4 212.4,116.3 213.1,116.0 213.8,116.0 214.5,116.1 215.2,115.1 215.9,114.5 216.6,112.5 217.3,109.7 218.0,106.6 218.7,103.2 219.4,99.5 220.1,102.5 220.8,91.0 221.5,94.2 222.2,87.3 222.9,84.5 223.6,83.0 224.3,83.5 225.0,82.7 225.7,82.9 226.4,81.7 227.1,85.0 227.8,83.8 228.5,89.6 229.2,88.2 229.9,95.7 230.6,90.1 231.3,95.3 232.0,95.0 232.7,96.0 233.4,102.2 234.1,98.1 234.8,101.0 235.5,103.6 236.2,105.6 236.9,102.8 237.6,105.9 238.3,105.9 239.0,105.5 239.7,107.3 240.4,107.6 241.1,107.6 241.8,107.4 242.5,110.1 243.2,110.3 243.9,107.7 244.6,110.6 245.3,112.1 246.0,109.1 246.7,112.0 247.4,109.8 248.1,113.9 248.8,111.1 249.5,112.8 250.2,111.3 250.9,113.4 251.6,111.8 252.3,113.3 253.0,114.2 253.7,112.9 254.4,110.6 255.1,114.7 255.8,113.7 256.5,115.4 257.2,114.2 257.9,115.3 258.6,114.9 259.3,116.2 260.0,114.9 260.7,115.8 261.4,116.5 262.1,116.5 262.8,115.4 263.5,117.0 264.2,116.4 264.9,116.2 265.6,115.8 266.3,116.7 267.0,116.1 267.7,116.3 268.4,116.1 269.1,116.6 269.8,117.0 270.5,116.8 271.2,116.5 271.9,117.0" fill="none" stroke="#222" stroke-width="0.65" stroke-linejoin="round" stroke-opacity="1"/>
<polyline points="392.6,30 393.3,18 393.8,10.6 394.3,18 394.7,30" fill="none" stroke="#d0d0d0" stroke-width="0.6"/>
<line x1="456" y1="116.4" x2="496" y2="116.4" stroke="#333" stroke-width="0.7" stroke-dasharray="1.2,1.6"/>
<polyline points="370.8,116.8 371.5,116.7 372.2,116.7 372.9,116.5 373.6,116.6 374.3,116.6 375.0,116.5 375.7,116.5 376.4,116.3 377.1,116.4 377.8,116.4 378.5,116.3 379.2,116.2 379.9,116.2 380.6,116.0 381.3,116.1 382.0,115.7 382.7,115.4 383.4,114.9 384.1,113.8 384.8,112.5 385.5,110.7 386.2,107.5 386.9,101.8 387.6,94.9 388.3,86.3 389.0,78.9 389.7,66.6 390.4,57.9 391.1,48.7 391.8,38.9 392.5,27.4 393.2,26.4 393.9,24.2 394.6,27.2 395.3,31.8 396.0,47.5 396.7,60.4 397.4,67.5 398.1,77.0 398.8,81.1 399.5,86.0 400.2,90.8 400.9,95.1 401.6,99.4 402.3,102.4 403.0,105.8 403.7,108.0 404.4,111.1 405.1,112.8 405.8,114.1 406.5,115.7 407.2,116.3 407.9,116.3 408.6,116.2 409.3,116.4 410.0,116.5 410.7,116.3 411.4,116.5 412.1,116.5 412.8,116.6 413.5,116.7 414.2,116.7 414.9,116.7 415.6,116.8" fill="none" stroke="#dddddd" stroke-width="0.5" stroke-linejoin="round" stroke-opacity="1"/>
<polyline points="370.0,116.7 370.7,116.7 371.4,116.7 372.1,116.5 372.8,116.6 373.5,116.4 374.2,116.6 374.9,116.5 375.6,116.5 376.3,116.3 377.0,116.3 377.7,116.2 378.4,116.1 379.1,116.1 379.8,116.0 380.5,116.0 381.2,115.9 381.9,115.3 382.6,114.8 383.3,114.1 384.0,112.3 384.7,110.6 385.4,107.1 386.1,101.8 386.8,95.1 387.5,86.2 388.2,78.3 388.9,67.6 389.6,58.2 390.3,49.4 391.0,39.8 391.7,28.4 392.4,24.4 393.1,26.6 393.8,24.9 394.5,31.7 395.2,48.5 395.9,61.3 396.6,67.9 397.3,75.8 398.0,82.1 398.7,86.3 399.4,91.2 400.1,95.3 400.8,98.9 401.5,102.6 402.2,105.3 402.9,108.4 403.6,111.2 404.3,112.7 405.0,114.1 405.7,115.7 406.4,116.3 407.1,116.2 407.8,116.3 408.5,116.4 409.2,116.4 409.9,116.4 410.6,116.5 411.3,116.6 412.0,116.6 412.7,116.5 413.4,116.8 414.1,116.7 414.8,116.7" fill="none" stroke="#c4c4c4" stroke-width="0.5" stroke-linejoin="round" stroke-opacity="1"/>
<polyline points="369.4,116.4 370.1,115.7 370.8,116.6 371.5,116.6 372.2,116.5 372.9,116.4 373.6,116.6 374.3,115.6 375.0,116.6 375.7,116.6 376.4,115.9 377.1,116.6 377.8,115.7 378.5,115.6 379.2,116.2 379.9,115.8 380.6,115.8 381.3,116.3 382.0,115.9 382.7,116.6 383.4,116.5 384.1,116.5 384.8,116.1 385.5,115.8 386.2,115.7 386.9,116.0 387.6,115.0 388.3,114.8 389.0,114.8 389.7,116.5 390.4,111.4 391.1,114.7 391.8,110.7 392.5,112.2 393.2,110.3 393.9,113.0 394.6,111.0 395.3,112.5 396.0,109.3 396.7,112.3 397.4,109.4 398.1,108.7 398.8,108.5 399.5,109.9 400.2,109.3 400.9,111.0 401.6,109.0 402.3,104.4 403.0,106.1 403.7,102.5 404.4,97.9 405.1,102.2 405.8,96.6 406.5,96.2 407.2,91.3 407.9,94.4 408.6,87.7 409.3,84.8 410.0,86.9 410.7,86.6 411.4,80.1 412.1,82.8 412.8,82.2 413.5,84.3 414.2,86.5 414.9,86.0 415.6,79.5 416.3,78.7 417.0,79.3 417.7,78.7 418.4,82.2 419.1,80.5 419.8,86.4 420.5,80.0 421.2,88.0 421.9,91.0 422.6,87.0 423.3,98.6 424.0,91.1 424.7,94.4 425.4,95.0 426.1,95.9 426.8,99.9 427.5,99.2 428.2,102.4 428.9,104.7 429.6,99.5 430.3,105.9 431.0,103.3 431.7,106.7 432.4,105.8 433.1,109.1 433.8,109.9 434.5,109.7 435.2,108.5 435.9,112.4 436.6,109.8 437.3,111.9 438.0,112.0 438.7,114.7 439.4,108.5 440.1,112.7 440.8,112.5 441.5,112.7 442.2,113.3 442.9,113.0 443.6,115.6 444.3,114.7 445.0,115.3 445.7,115.6 446.4,115.9 447.1,116.6 447.8,114.7 448.5,115.7 449.2,115.7 449.9,116.3 450.6,115.9 451.3,116.6 452.0,116.1 452.7,116.1 453.4,116.4 454.1,115.8 454.8,115.9 455.5,116.6 456.2,116.6 456.9,116.3" fill="none" stroke="#8a8a8a" stroke-width="0.6" stroke-linejoin="round" stroke-opacity="1"/>
<polyline points="368.0,116.6 368.7,115.8 369.4,116.2 370.1,116.6 370.8,116.6 371.5,116.5 372.2,115.6 372.9,116.6 373.6,115.7 374.3,116.6 375.0,116.2 375.7,116.6 376.4,116.2 377.1,115.7 377.8,115.3 378.5,116.1 379.2,116.4 379.9,116.6 380.6,116.2 381.3,115.8 382.0,116.3 382.7,115.2 383.4,116.3 384.1,115.6 384.8,116.6 385.5,116.6 386.2,115.4 386.9,114.2 387.6,114.7 388.3,115.1 389.0,112.3 389.7,113.1 390.4,113.9 391.1,112.7 391.8,111.9 392.5,114.9 393.2,107.6 393.9,114.9 394.6,111.2 395.3,109.3 396.0,106.3 396.7,107.0 397.4,109.4 398.1,102.8 398.8,108.5 399.5,108.0 400.2,103.2 400.9,104.3 401.6,101.8 402.3,102.9 403.0,103.2 403.7,98.8 404.4,101.5 405.1,101.4 405.8,93.9 406.5,97.1 407.2,89.4 407.9,91.8 408.6,90.0 409.3,96.4 410.0,85.5 410.7,85.9 411.4,83.9 412.1,83.9 412.8,78.7 413.5,91.2 414.2,78.7 414.9,79.2 415.6,78.7 416.3,85.3 417.0,94.0 417.7,96.7 418.4,87.2 419.1,87.6 419.8,85.7 420.5,85.1 421.2,91.8 421.9,91.8 422.6,99.7 423.3,94.5 424.0,91.8 424.7,92.7 425.4,92.6 426.1,102.9 426.8,101.3 427.5,99.8 428.2,98.1 428.9,106.0 429.6,103.5 430.3,107.6 431.0,105.9 431.7,106.6 432.4,103.5 433.1,110.2 433.8,109.0 434.5,111.6 435.2,111.7 435.9,113.7 436.6,109.7 437.3,113.6 438.0,107.5 438.7,114.3 439.4,111.6 440.1,115.3 440.8,114.4 441.5,114.0 442.2,114.9 442.9,116.6 443.6,114.8 444.3,115.9 445.0,114.9 445.7,116.4 446.4,115.9 447.1,115.5 447.8,114.9 448.5,114.7 449.2,116.6 449.9,116.1 450.6,115.9 451.3,116.1 452.0,115.9 452.7,116.6 453.4,116.6 454.1,115.5 454.8,116.5 455.5,116.6" fill="none" stroke="#383838" stroke-width="0.6" stroke-linejoin="round" stroke-opacity="1"/>
<line x1="367.5" y1="107" x2="367.5" y2="117" stroke="#222" stroke-width="0.9"/>
<line x1="289" y1="265.6" x2="300" y2="265.6" stroke="#444" stroke-width="0.6" stroke-dasharray="1,2"/>
<polyline points="198.1,265.8 198.8,265.8 199.5,265.2 200.2,263.6 200.9,259.9 201.6,256.7 202.3,252.9 203.0,248.3 203.7,244.2 204.4,242.0 205.1,234.5 205.8,230.7 206.5,228.9 207.2,216.7 207.9,215.6 208.6,208.0 209.3,200.6 210.0,196.8 210.7,190.3 211.4,179.8 212.1,173.1 212.8,164.9 213.5,161.5 214.2,165.0 214.9,174.6 215.6,182.0 216.3,182.9 217.0,175.3 217.7,184.4 218.4,179.3 219.1,182.8 219.8,187.8 220.5,208.5 221.2,209.9 221.9,208.0 222.6,217.1 223.3,220.4 224.0,221.9 224.7,221.2 225.4,231.5 226.1,231.6 226.8,236.3 227.5,235.8 228.2,238.6 228.9,242.8 229.6,244.4 230.3,246.7 231.0,249.9 231.7,255.6 232.4,256.2 233.1,258.9 233.8,259.4 234.5,262.7 235.2,263.7 235.9,264.1 236.6,264.9 237.3,264.3 238.0,265.1" fill="none" stroke="#c8c8c8" stroke-width="0.5" stroke-linejoin="round" stroke-opacity="1"/>
<polyline points="197.0,265.8 197.7,265.8 198.4,265.3 199.1,264.5 199.8,260.5 200.5,256.4 201.2,253.0 201.9,247.8 202.6,242.0 203.3,237.0 204.0,231.8 204.7,230.1 205.4,225.9 206.1,223.3 206.8,215.3 207.5,207.6 208.2,200.0 208.9,197.3 209.6,188.1 210.3,187.0 211.0,172.5 211.7,167.0 212.4,162.1 213.1,181.7 213.8,181.7 214.5,182.7 215.2,181.2 215.9,187.9 216.6,179.8 217.3,184.3 218.0,177.9 218.7,191.3 219.4,204.0 220.1,208.4 220.8,214.1 221.5,217.2 222.2,222.2 222.9,221.7 223.6,227.5 224.3,233.5 225.0,228.5 225.7,232.7 226.4,238.1 227.1,238.8 227.8,240.4 228.5,248.0 229.2,249.9 229.9,252.6 230.6,255.0 231.3,256.9 232.0,257.7 232.7,259.1 233.4,262.8 234.1,262.4 234.8,263.7 235.5,264.5 236.2,264.4 236.9,265.5" fill="none" stroke="#b4b4b4" stroke-width="0.5" stroke-linejoin="round" stroke-opacity="1"/>
<polyline points="196.3,265.7 197.0,265.8 197.7,265.5 198.4,264.3 199.1,259.9 199.8,257.5 200.5,252.5 201.2,246.8 201.9,241.3 202.6,234.2 203.3,232.8 204.0,227.9 204.7,227.7 205.4,226.4 206.1,212.2 206.8,211.7 207.5,196.2 208.2,196.4 208.9,191.2 209.6,185.2 210.3,171.9 211.0,164.2 211.7,159.9 212.4,170.2 213.1,177.5 213.8,187.1 214.5,178.6 215.2,185.2 215.9,186.5 216.6,177.0 217.3,179.6 218.0,187.5 218.7,203.6 219.4,213.9 220.1,216.9 220.8,215.0 221.5,217.3 222.2,219.0 222.9,220.9 223.6,226.0 224.3,231.7 225.0,233.8 225.7,236.9 226.4,237.6 227.1,241.6 227.8,244.3 228.5,249.2 229.2,250.5 229.9,251.7 230.6,255.5 231.3,258.2 232.0,261.0 232.7,263.2 233.4,263.2 234.1,263.7 234.8,264.0 235.5,264.8 236.2,265.4" fill="none" stroke="#b4b4b4" stroke-width="0.5" stroke-linejoin="round" stroke-opacity="1"/>
<polyline points="203,250 205.5,228 207.4,212 208.3,198 209.4,214 210.6,196 211.4,180 212.3,165 213.4,184 214.5,200 216,188 217.6,178 218.6,192 219.6,208 221,222 223.5,236 226,246" fill="none" stroke="#c2c2c2" stroke-width="0.55"/>
<polyline points="198.0,265.4 198.7,265.9 199.4,265.1 200.1,265.3 200.8,264.1 201.5,265.2 202.2,264.4 202.9,264.8 203.6,264.8 204.3,264.4 205.0,264.4 205.7,265.7 206.4,264.9 207.1,265.6 207.8,264.7 208.5,264.0 209.2,263.8 209.9,264.3 210.6,264.3 211.3,265.1 212.0,263.4 212.7,263.0 213.4,263.9 214.1,264.5 214.8,264.3 215.5,263.3 216.2,262.1 216.9,262.4 217.6,261.8 218.3,263.1 219.0,263.8 219.7,263.0 220.4,260.4 221.1,262.2 221.8,257.5 222.5,261.1 223.2,260.7 223.9,259.1 224.6,258.8 225.3,257.7 226.0,256.4 226.7,256.5 227.4,256.5 228.1,257.0 228.8,254.1 229.5,256.2 230.2,252.4 230.9,251.0 231.6,252.3 232.3,250.5 233.0,247.4 233.7,250.6 234.4,247.1 235.1,243.9 235.8,240.2 236.5,242.6 237.2,234.3 237.9,233.4 238.6,228.6 239.3,219.1 240.0,215.6 240.7,224.7 241.4,227.0 242.1,222.9 242.8,222.9 243.5,222.5 244.2,223.0 244.9,222.2 245.6,219.0 246.3,224.4 247.0,215.4 247.7,216.4 248.4,219.5 249.1,219.3 249.8,223.7 250.5,227.7 251.2,221.5 251.9,231.4 252.6,229.4 253.3,235.1 254.0,238.9 254.7,237.2 255.4,240.2 256.1,239.2 256.8,246.8 257.5,244.6 258.2,247.0 258.9,249.3 259.6,252.2 260.3,252.9 261.0,250.6 261.7,254.7 262.4,255.3 263.1,256.9 263.8,257.6 264.5,257.1 265.2,258.4 265.9,260.4 266.6,260.0 267.3,258.9 268.0,262.0 268.7,263.0 269.4,261.2 270.1,262.4 270.8,260.0 271.5,261.3 272.2,261.8 272.9,262.8 273.6,262.3 274.3,263.7 275.0,263.6 275.7,264.0 276.4,263.5 277.1,264.4 277.8,262.9 278.5,263.1 279.2,262.9 279.9,264.2 280.6,263.9 281.3,264.3 282.0,264.7 282.7,265.9 283.4,264.8 284.1,265.9 284.8,265.5 285.5,265.6 286.2,265.4 286.9,265.4 287.6,265.9 288.3,265.7 289.0,265.9 289.7,265.6" fill="none" stroke="#6a6a6a" stroke-width="0.6" stroke-linejoin="round" stroke-opacity="1"/>
<polyline points="197.0,265.1 197.7,265.6 198.4,265.7 199.1,265.9 199.8,265.6 200.5,265.2 201.2,265.0 201.9,264.9 202.6,264.1 203.3,264.7 204.0,265.0 204.7,264.9 205.4,264.2 206.1,264.1 206.8,264.1 207.5,264.2 208.2,264.0 208.9,264.6 209.6,262.5 210.3,264.1 211.0,262.6 211.7,263.3 212.4,262.4 213.1,264.4 213.8,263.3 214.5,263.7 215.2,262.0 215.9,262.1 216.6,261.9 217.3,263.0 218.0,261.8 218.7,263.1 219.4,260.8 220.1,263.3 220.8,261.0 221.5,262.9 222.2,259.8 222.9,260.0 223.6,257.9 224.3,260.3 225.0,259.2 225.7,258.8 226.4,257.7 227.1,257.6 227.8,255.8 228.5,256.1 229.2,252.1 229.9,253.3 230.6,252.9 231.3,253.2 232.0,252.7 232.7,252.2 233.4,249.0 234.1,247.2 234.8,239.8 235.5,242.9 236.2,237.9 236.9,239.4 237.6,234.2 238.3,232.5 239.0,229.2 239.7,229.4 240.4,223.9 241.1,226.2 241.8,232.3 242.5,229.9 243.2,224.4 243.9,223.8 244.6,221.5 245.3,230.8 246.0,221.1 246.7,219.3 247.4,217.2 248.1,217.2 248.8,219.7 249.5,227.1 250.2,227.6 250.9,229.7 251.6,229.5 252.3,231.9 253.0,235.6 253.7,237.5 254.4,236.9 255.1,245.4 255.8,241.3 256.5,244.8 257.2,242.2 257.9,251.9 258.6,249.4 259.3,252.2 260.0,253.2 260.7,253.5 261.4,253.7 262.1,256.8 262.8,255.3 263.5,258.6 264.2,259.4 264.9,260.7 265.6,260.8 266.3,261.7 267.0,261.6 267.7,261.5 268.4,260.9 269.1,260.8 269.8,260.9 270.5,261.8 271.2,261.6 271.9,262.1 272.6,262.6 273.3,265.1 274.0,262.2 274.7,263.9 275.4,263.5 276.1,263.3 276.8,263.2 277.5,263.8 278.2,264.0 278.9,264.0 279.6,265.5 280.3,265.1 281.0,265.0 281.7,265.9 282.4,265.4 283.1,265.1 283.8,265.3 284.5,265.5 285.2,265.6 285.9,265.9 286.6,265.0 287.3,265.3 288.0,265.7 288.7,265.9" fill="none" stroke="#0a0a0a" stroke-width="0.8" stroke-linejoin="round" stroke-opacity="1"/>
<polyline points="381.0,200 381.6,178 382.2,159.5 382.8,178 383.4,200" fill="none" stroke="#cccccc" stroke-width="0.6"/>
<line x1="370" y1="265.2" x2="405" y2="265.2" stroke="#555" stroke-width="0.6" stroke-dasharray="0.8,2.2"/>
<line x1="368.3" y1="254" x2="368.3" y2="265.6" stroke="#333" stroke-width="0.9"/>
<line x1="482" y1="265.3" x2="494" y2="265.3" stroke="#444" stroke-width="0.6" stroke-dasharray="1,2"/>
<polyline points="370.0,265.4 370.7,264.0 371.4,263.8 372.1,259.0 372.8,253.8 373.5,252.0 374.2,247.2 374.9,243.5 375.6,237.3 376.3,235.2 377.0,229.6 377.7,224.7 378.4,221.0 379.1,219.2 379.8,214.0 380.5,211.2 381.2,202.9 381.9,195.0 382.6,195.5 383.3,192.7 384.0,195.7 384.7,197.3 385.4,202.5 386.1,201.9 386.8,204.2 387.5,194.8 388.2,202.0 388.9,206.8 389.6,210.9 390.3,217.8 391.0,222.4 391.7,230.5 392.4,228.5 393.1,231.0 393.8,236.9 394.5,237.6 395.2,243.3 395.9,240.3 396.6,242.2 397.3,242.4 398.0,244.7 398.7,248.4 399.4,250.3 400.1,251.1 400.8,252.5 401.5,253.1 402.2,257.0 402.9,258.5 403.6,259.4 404.3,261.3 405.0,260.5 405.7,260.7 406.4,260.8 407.1,261.9 407.8,262.9 408.5,263.9 409.2,263.8 409.9,263.8 410.6,265.3" fill="none" stroke="#c8c8c8" stroke-width="0.5" stroke-linejoin="round" stroke-opacity="1"/>
<polyline points="369.0,265.2 369.7,264.4 370.4,263.7 371.1,258.9 371.8,253.6 372.5,250.8 373.2,247.5 373.9,244.4 374.6,236.2 375.3,232.0 376.0,232.1 376.7,227.7 377.4,225.9 378.1,220.2 378.8,213.0 379.5,206.3 380.2,208.0 380.9,195.8 381.6,192.7 382.3,192.7 383.0,195.8 383.7,199.8 384.4,204.1 385.1,202.9 385.8,201.7 386.5,200.4 387.2,204.1 387.9,206.6 388.6,208.1 389.3,219.0 390.0,218.7 390.7,224.7 391.4,224.9 392.1,231.2 392.8,232.7 393.5,237.7 394.2,245.6 394.9,241.3 395.6,244.5 396.3,242.7 397.0,246.1 397.7,249.2 398.4,249.8 399.1,252.1 399.8,253.4 400.5,253.7 401.2,256.6 401.9,256.2 402.6,260.0 403.3,258.8 404.0,261.0 404.7,261.5 405.4,262.9 406.1,262.4 406.8,263.7 407.5,263.6 408.2,264.7 408.9,264.8 409.6,265.1" fill="none" stroke="#b4b4b4" stroke-width="0.5" stroke-linejoin="round" stroke-opacity="1"/>
<polyline points="368.4,265.1 369.1,264.0 369.8,264.3 370.5,259.6 371.2,254.0 371.9,249.5 372.6,247.5 373.3,241.3 374.0,239.3 374.7,231.7 375.4,232.8 376.1,229.2 376.8,218.9 377.5,215.3 378.2,215.1 378.9,203.6 379.6,195.8 380.3,192.7 381.0,195.4 381.7,194.6 382.4,193.1 383.1,195.9 383.8,209.2 384.5,202.1 385.2,195.0 385.9,196.8 386.6,202.5 387.3,207.5 388.0,216.7 388.7,216.8 389.4,220.2 390.1,223.0 390.8,230.0 391.5,231.9 392.2,234.5 392.9,238.6 393.6,238.9 394.3,241.6 395.0,243.5 395.7,244.0 396.4,248.3 397.1,248.2 397.8,249.8 398.5,252.5 399.2,253.0 399.9,253.2 400.6,257.6 401.3,254.8 402.0,258.0 402.7,260.4 403.4,260.1 404.1,262.0 404.8,262.2 405.5,263.3 406.2,262.4 406.9,263.8 407.6,265.0 408.3,264.5 409.0,265.2" fill="none" stroke="#b4b4b4" stroke-width="0.5" stroke-linejoin="round" stroke-opacity="1"/>
<polyline points="404.0,264.9 404.7,265.3 405.4,264.7 406.1,264.7 406.8,265.3 407.5,264.6 408.2,264.7 408.9,265.0 409.6,264.1 410.3,264.7 411.0,265.0 411.7,264.4 412.4,263.8 413.1,264.5 413.8,264.2 414.5,264.9 415.2,264.2 415.9,264.1 416.6,263.4 417.3,264.3 418.0,263.4 418.7,263.6 419.4,263.7 420.1,263.6 420.8,261.9 421.5,263.5 422.2,262.2 422.9,261.5 423.6,261.8 424.3,260.6 425.0,260.5 425.7,260.9 426.4,258.9 427.1,259.2 427.8,260.5 428.5,259.6 429.2,257.7 429.9,258.2 430.6,257.1 431.3,258.3 432.0,256.6 432.7,257.7 433.4,255.3 434.1,255.2 434.8,256.2 435.5,257.6 436.2,253.4 436.9,254.8 437.6,255.4 438.3,257.6 439.0,256.0 439.7,257.9 440.4,258.5 441.1,258.1 441.8,254.8 442.5,255.7 443.2,255.6 443.9,257.3 444.6,255.6 445.3,258.3 446.0,256.7 446.7,257.9 447.4,257.7 448.1,257.7 448.8,255.3 449.5,254.7 450.2,254.4 450.9,251.9 451.6,248.5 452.3,249.0 453.0,242.3 453.7,243.2 454.4,240.3 455.1,237.7 455.8,232.0 456.5,231.9 457.2,231.0 457.9,228.6 458.6,230.1 459.3,230.6 460.0,228.6 460.7,228.6 461.4,230.8 462.1,234.6 462.8,232.8 463.5,236.3 464.2,239.2 464.9,240.8 465.6,238.6 466.3,247.8 467.0,247.4 467.7,249.0 468.4,253.3 469.1,253.0 469.8,253.6 470.5,256.4 471.2,258.3 471.9,257.3 472.6,258.7 473.3,260.5 474.0,261.9 474.7,262.4 475.4,263.7 476.1,263.3 476.8,263.2 477.5,263.5 478.2,264.0 478.9,265.2 479.6,265.0 480.3,264.9 481.0,265.5 481.7,265.5 482.4,265.2" fill="none" stroke="#505050" stroke-width="0.6" stroke-linejoin="round" stroke-opacity="1"/>
<polyline points="403.0,264.9 403.7,265.3 404.4,265.0 405.1,264.9 405.8,265.2 406.5,264.9 407.2,264.5 407.9,265.4 408.6,264.2 409.3,264.1 410.0,263.8 410.7,264.3 411.4,264.5 412.1,264.8 412.8,264.6 413.5,265.2 414.2,264.7 414.9,264.6 415.6,264.5 416.3,264.5 417.0,263.5 417.7,264.3 418.4,263.0 419.1,263.1 419.8,263.5 420.5,263.2 421.2,261.1 421.9,262.0 422.6,262.5 423.3,261.1 424.0,260.6 424.7,261.2 425.4,259.9 426.1,260.7 426.8,258.4 427.5,259.2 428.2,258.2 428.9,258.7 429.6,258.5 430.3,260.0 431.0,256.3 431.7,258.5 432.4,255.6 433.1,256.6 433.8,255.8 434.5,256.9 435.2,255.0 435.9,252.9 436.6,256.5 437.3,256.4 438.0,255.9 438.7,259.0 439.4,256.4 440.1,255.9 440.8,256.4 441.5,257.2 442.2,255.2 442.9,258.3 443.6,257.2 444.3,257.0 445.0,259.1 445.7,258.3 446.4,255.4 447.1,257.7 447.8,256.0 448.5,257.4 449.2,251.7 449.9,253.8 450.6,250.9 451.3,249.3 452.0,245.8 452.7,245.6 453.4,241.2 454.1,238.7 454.8,233.4 455.5,235.8 456.2,233.1 456.9,231.4 457.6,228.8 458.3,231.4 459.0,228.6 459.7,231.2 460.4,228.6 461.1,233.4 461.8,235.5 462.5,239.7 463.2,236.7 463.9,241.9 464.6,242.7 465.3,242.8 466.0,248.4 466.7,250.1 467.4,251.1 468.1,252.7 468.8,254.7 469.5,257.0 470.2,258.3 470.9,259.3 471.6,262.2 472.3,260.8 473.0,261.0 473.7,263.0 474.4,262.3 475.1,264.6 475.8,264.0 476.5,263.8 477.2,264.5 477.9,265.4 478.6,264.6 479.3,265.3 480.0,265.2 480.7,265.5 481.4,265.5" fill="none" stroke="#0a0a0a" stroke-width="0.8" stroke-linejoin="round" stroke-opacity="1"/>
<line x1="196.7" y1="130.4" x2="513.5" y2="130.4" stroke="#000" stroke-width="1.7"/>
<polygon points="512.0,126.5 517.9,130.4 512.0,134.3" fill="#000"/>
<line x1="196.7" y1="278.7" x2="513.5" y2="278.7" stroke="#000" stroke-width="1.7"/>
<polygon points="512.0,274.8 517.9,278.7 512.0,282.59999999999997" fill="#000"/>
<text x="353.4" y="141.6" text-anchor="middle" font-family="Liberation Sans, Arial, sans-serif" font-size="7.4" font-weight="bold" fill="#000" stroke="#000" stroke-width="0.25">VEGF</text>
<text x="352.0" y="288.0" text-anchor="middle" font-family="Liberation Sans, Arial, sans-serif" font-size="7.4" font-weight="bold" fill="#000" stroke="#000" stroke-width="0.25">VEGF</text>
</svg>
</body></html>
